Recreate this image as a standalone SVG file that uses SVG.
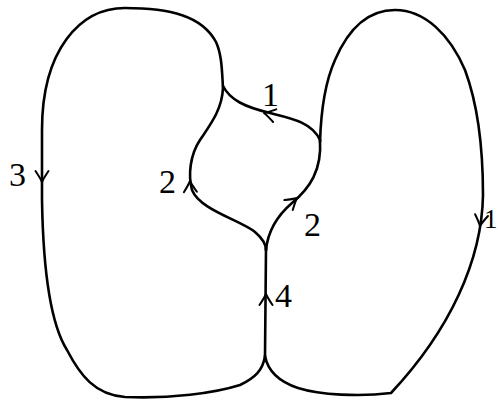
<svg xmlns="http://www.w3.org/2000/svg" xmlns:xlink="http://www.w3.org/1999/xlink" width="498" height="401" viewBox="0 0 498 401">
<style>
.c{fill:none;stroke:#000;stroke-width:2.6;stroke-linecap:round;stroke-linejoin:round}
.a{fill:none;stroke:#000;stroke-width:2;stroke-linecap:round;stroke-linejoin:round}
.t{font-family:"Liberation Serif","Times New Roman",serif;font-size:34px;fill:#000}
</style>
<defs>
<path id="ah" d="M-11,-6.5 Q-4,-1.8 0,0 Q-4,1.8 -11,6.5"/>
</defs>
<rect width="498" height="401" fill="#fff"/>
<g id="connectors">
<path class="c" d="M223,88 C222,72 222,55 216,42 C202,16 170,8 125,8 C80,8 42,50 42,130 L42,200 C43,260 48,320 67,350 C80,375 95,395 125,397 C170,399 215,393 240,385 C255,378 263,370 265,356"/>
<path class="c" d="M320,142 C321,110 326,80 335,60 C350,25 370,10 395,10 C425,10 450,35 465,70 C478,105 483,150 483,195 C482,260 450,330 391,393 C360,397 320,395 298,388 C280,382 268,372 265,356"/>
<path class="c" d="M265,356 L266,248"/>
<path class="c" d="M223,88 C222,110 210,125 200,140 C190,155 188,175 192,190 C200,210 240,220 255,232 C262,238 266,243 266,250"/>
<path class="c" d="M266,250 C268,230 278,215 292,203 C310,188 322,170 320,140"/>
<path class="c" d="M320,140 C312,122 290,118 270,113 C245,107 230,100 223,86"/>
</g>
<g id="arrows">
<use xlink:href="#ah" class="a" transform="translate(42,182) rotate(90)"/>
<use xlink:href="#ah" class="a" transform="translate(480,226) rotate(98)"/>
<use xlink:href="#ah" class="a" transform="translate(264,113) rotate(194)"/>
<use xlink:href="#ah" class="a" transform="translate(190,181) rotate(-92)"/>
<use xlink:href="#ah" class="a" transform="translate(297,198) rotate(-40)"/>
<use xlink:href="#ah" class="a" transform="translate(266,294) rotate(-90)"/>
</g>
<g id="labels">
<text class="t" x="9" y="186">3</text>
<text class="t" x="484" y="228" style="font-size:27px">1</text>
<text class="t" x="262" y="106">1</text>
<text class="t" x="159" y="193">2</text>
<text class="t" x="304" y="236">2</text>
<text class="t" x="275" y="307">4</text>
</g>
</svg>
